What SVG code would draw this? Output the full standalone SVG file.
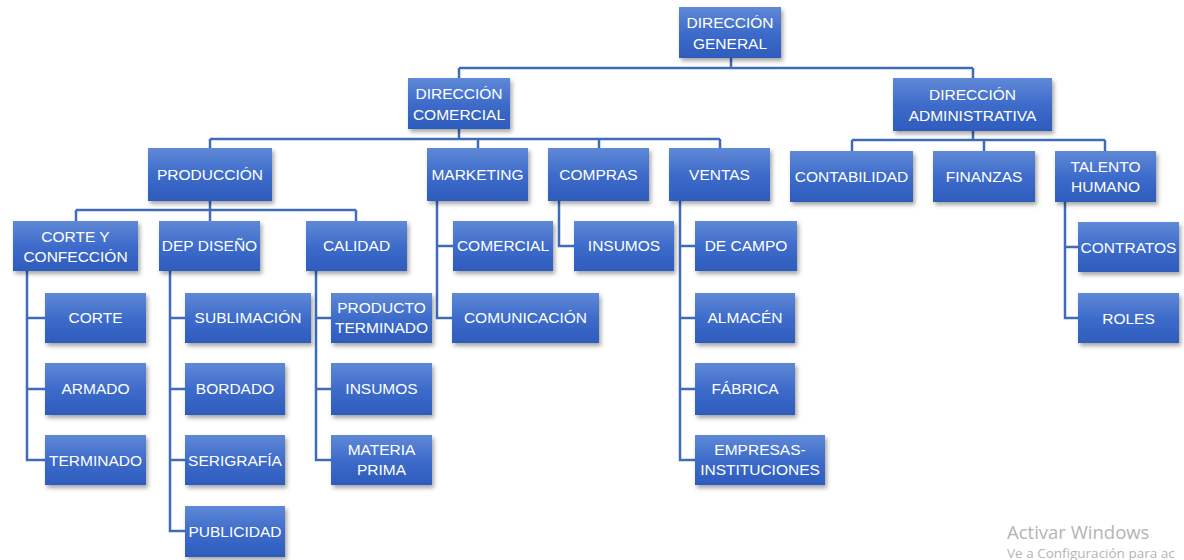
<svg xmlns="http://www.w3.org/2000/svg" width="1184" height="560" viewBox="0 0 1184 560">
<defs>
<linearGradient id="g" x1="0" y1="0" x2="0" y2="1">
<stop offset="0" stop-color="#5f89d6"/>
<stop offset="0.5" stop-color="#3e6ccb"/>
<stop offset="1" stop-color="#2e5cbd"/>
</linearGradient>
<filter id="sh" x="-10%" y="-10%" width="130%" height="140%">
<feDropShadow dx="2" dy="3" stdDeviation="2" flood-color="#000" flood-opacity="0.35"/>
</filter>
</defs>
<style>
rect.n{fill:url(#g);filter:url(#sh);}
text.t{font-family:"Liberation Sans",Arial,sans-serif;font-size:15.5px;fill:#ffffff;text-anchor:middle;}
#connectors path{fill:none;stroke:#3f6bb7;stroke-width:2.5;}
text.w1{font-family:"Open Sans","Noto Sans",sans-serif;font-size:18.5px;fill:#b4b4b4;}
text.w2{font-family:"Open Sans","Noto Sans",sans-serif;font-size:13.5px;fill:#b4b4b4;}
</style>
<rect width="1184" height="560" fill="#ffffff"/>
<g id="connectors">
<path d="M731 58V68M459 68H973M459 68V78M973 68V78"/>
<path d="M459 129V139M210 139H720M210 139V148M478 139V148M599 139V148M720 139V148"/>
<path d="M973 131V140M852 140H1105M852 140V151M984 140V151M1105 140V151"/>
<path d="M210 201V210M76 210H356M76 210V221M210 210V221M356 210V221"/>
<path d="M27 271V460H45M27 318H45M27 389H45"/>
<path d="M170 271V531H185M170 318H185M170 389H185M170 460H185"/>
<path d="M316 271V460H331M316 318H331M316 389H331"/>
<path d="M437 201V318H452M437 246H453"/>
<path d="M559 201V246H574"/>
<path d="M680 201V460H695M680 246H695M680 318H695M680 389H695"/>
<path d="M1065 202V318H1078M1065 247H1078"/>
</g>
<g id="dg"><rect class="n" x="679" y="7" width="102" height="51"/><text class="t" x="730" y="28">DIRECCIÓN</text><text class="t" x="730" y="49">GENERAL</text></g>
<g id="dc"><rect class="n" x="408" y="78" width="102" height="51"/><text class="t" x="459" y="99">DIRECCIÓN</text><text class="t" x="459" y="120">COMERCIAL</text></g>
<g id="da"><rect class="n" x="893" y="78" width="159" height="53"/><text class="t" x="972.5" y="100">DIRECCIÓN</text><text class="t" x="972.5" y="121">ADMINISTRATIVA</text></g>
<g id="prod"><rect class="n" x="148" y="148" width="124" height="53"/><text class="t" x="210" y="180">PRODUCCIÓN</text></g>
<g id="mkt"><rect class="n" x="427" y="148" width="101" height="53"/><text class="t" x="477.5" y="180">MARKETING</text></g>
<g id="comp"><rect class="n" x="548" y="148" width="101" height="53"/><text class="t" x="598.5" y="180">COMPRAS</text></g>
<g id="vent"><rect class="n" x="669" y="148" width="101" height="53"/><text class="t" x="719.5" y="180">VENTAS</text></g>
<g id="cont"><rect class="n" x="790" y="151" width="123" height="51"/><text class="t" x="851.5" y="182">CONTABILIDAD</text></g>
<g id="fin"><rect class="n" x="933" y="151" width="102" height="51"/><text class="t" x="984" y="182">FINANZAS</text></g>
<g id="th"><rect class="n" x="1055" y="151" width="101" height="51"/><text class="t" x="1105.5" y="172">TALENTO</text><text class="t" x="1105.5" y="192">HUMANO</text></g>
<g id="cyc"><rect class="n" x="13" y="221" width="125" height="50"/><text class="t" x="75.5" y="242">CORTE Y</text><text class="t" x="75.5" y="262">CONFECCIÓN</text></g>
<g id="dd"><rect class="n" x="159" y="221" width="101" height="50"/><text class="t" x="209.5" y="251">DEP DISEÑO</text></g>
<g id="cal"><rect class="n" x="306" y="221" width="101" height="50"/><text class="t" x="356.5" y="251">CALIDAD</text></g>
<g id="comer"><rect class="n" x="453" y="221" width="100" height="50"/><text class="t" x="503" y="251">COMERCIAL</text></g>
<g id="ins1"><rect class="n" x="574" y="221" width="100" height="50"/><text class="t" x="624" y="251">INSUMOS</text></g>
<g id="dcamp"><rect class="n" x="695" y="221" width="102" height="50"/><text class="t" x="746" y="251">DE CAMPO</text></g>
<g id="contr"><rect class="n" x="1078" y="222" width="101" height="50"/><text class="t" x="1128.5" y="253">CONTRATOS</text></g>
<g id="corte"><rect class="n" x="45" y="293" width="101" height="50"/><text class="t" x="95.5" y="323">CORTE</text></g>
<g id="armado"><rect class="n" x="45" y="363" width="101" height="52"/><text class="t" x="95.5" y="394">ARMADO</text></g>
<g id="term"><rect class="n" x="45" y="435" width="101" height="50"/><text class="t" x="95.5" y="466">TERMINADO</text></g>
<g id="subl"><rect class="n" x="185" y="293" width="126" height="50"/><text class="t" x="248" y="323">SUBLIMACIÓN</text></g>
<g id="bord"><rect class="n" x="185" y="363" width="100" height="52"/><text class="t" x="235" y="394">BORDADO</text></g>
<g id="seri"><rect class="n" x="185" y="435" width="100" height="50"/><text class="t" x="235" y="466">SERIGRAFÍA</text></g>
<g id="publ"><rect class="n" x="185" y="506" width="100" height="51"/><text class="t" x="235" y="537">PUBLICIDAD</text></g>
<g id="pt"><rect class="n" x="331" y="293" width="101" height="50"/><text class="t" x="381.5" y="313">PRODUCTO</text><text class="t" x="381.5" y="333">TERMINADO</text></g>
<g id="ins2"><rect class="n" x="331" y="363" width="101" height="52"/><text class="t" x="381.5" y="394">INSUMOS</text></g>
<g id="mp"><rect class="n" x="331" y="435" width="101" height="50"/><text class="t" x="381.5" y="455">MATERIA</text><text class="t" x="381.5" y="475">PRIMA</text></g>
<g id="comun"><rect class="n" x="452" y="293" width="147" height="50"/><text class="t" x="525.5" y="323">COMUNICACIÓN</text></g>
<g id="alm"><rect class="n" x="695" y="293" width="100" height="50"/><text class="t" x="745" y="323">ALMACÉN</text></g>
<g id="fab"><rect class="n" x="695" y="363" width="100" height="52"/><text class="t" x="745" y="394">FÁBRICA</text></g>
<g id="emp"><rect class="n" x="695" y="435" width="130" height="50"/><text class="t" x="760" y="455">EMPRESAS-</text><text class="t" x="760" y="475">INSTITUCIONES</text></g>
<g id="roles"><rect class="n" x="1078" y="293" width="101" height="50"/><text class="t" x="1128.5" y="324">ROLES</text></g>
<text class="w1" x="1007" y="539">Activar Windows</text>
<text class="w2" x="1007" y="558">Ve a Configuración para ac</text>
</svg>
